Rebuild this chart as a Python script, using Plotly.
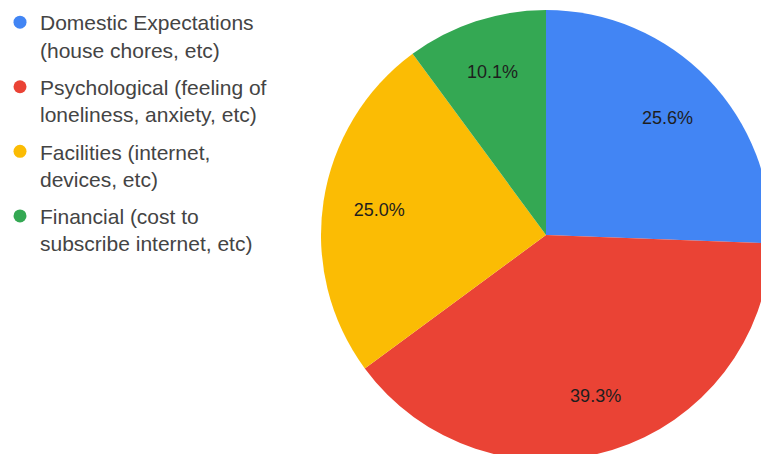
import plotly.graph_objects as go

categories = [
    "Domestic Expectations<br>(house chores, etc)",
    "Psychological (feeling of<br>loneliness, anxiety, etc)",
    "Facilities (internet,<br>devices, etc)",
    "Financial (cost to<br>subscribe internet, etc)",
]
values = [25.6, 39.3, 25.0, 10.1]
colors = ["#4285F4", "#EA4335", "#FBBC04", "#34A853"]

W, H = 771, 460
dom = dict(x=[321 / W, 1], y=[0, 450 / H])
fig = go.Figure()
# filled slices
fig.add_trace(go.Pie(
    labels=categories, values=values, sort=False,
    direction="clockwise", rotation=0,
    marker=dict(colors=colors, line=dict(width=0)),
    textinfo="none", domain=dom, showlegend=False,
    hoverinfo="label+percent",
))
# transparent ring carrying the percentage labels (places text farther out)
fig.add_trace(go.Pie(
    labels=categories, values=values, sort=False,
    direction="clockwise", rotation=0, hole=0.5,
    marker=dict(colors=["rgba(0,0,0,0)"] * len(values), line=dict(width=0)),
    texttemplate="%{percent:.1%}",
    textposition="inside", insidetextorientation="horizontal",
    textfont=dict(family="Liberation Sans, Arial, sans-serif", size=18, color="#1e1e1e"),
    domain=dom, showlegend=False, hoverinfo="skip",
))
for i, (cat, col) in enumerate(zip(categories, colors)):
    fig.add_trace(go.Scatter(
        x=[None], y=[None], mode="markers", name=cat,
        marker=dict(color=col, size=13, symbol="circle"),
        legendgroup=f"g{i}", showlegend=True,
    ))

fig.update_layout(
    width=W, height=H,
    margin=dict(l=0, r=0, t=0, b=0, autoexpand=False),
    paper_bgcolor="white", plot_bgcolor="white",
    xaxis=dict(visible=False), yaxis=dict(visible=False),
    legend=dict(
        x=0, y=1 - 2 / H, xanchor="left", yanchor="top",
        font=dict(family="Liberation Sans, Arial, sans-serif", size=21, color="#444444"),
        traceorder="grouped", tracegroupgap=7, valign="top",
        itemsizing="trace", bgcolor="rgba(0,0,0,0)",
    ),
)

fig.write_html(
    "out.html",
    post_script="document.documentElement.style.overflow='hidden';document.body.style.overflow='hidden';document.body.style.margin='0';",
)
